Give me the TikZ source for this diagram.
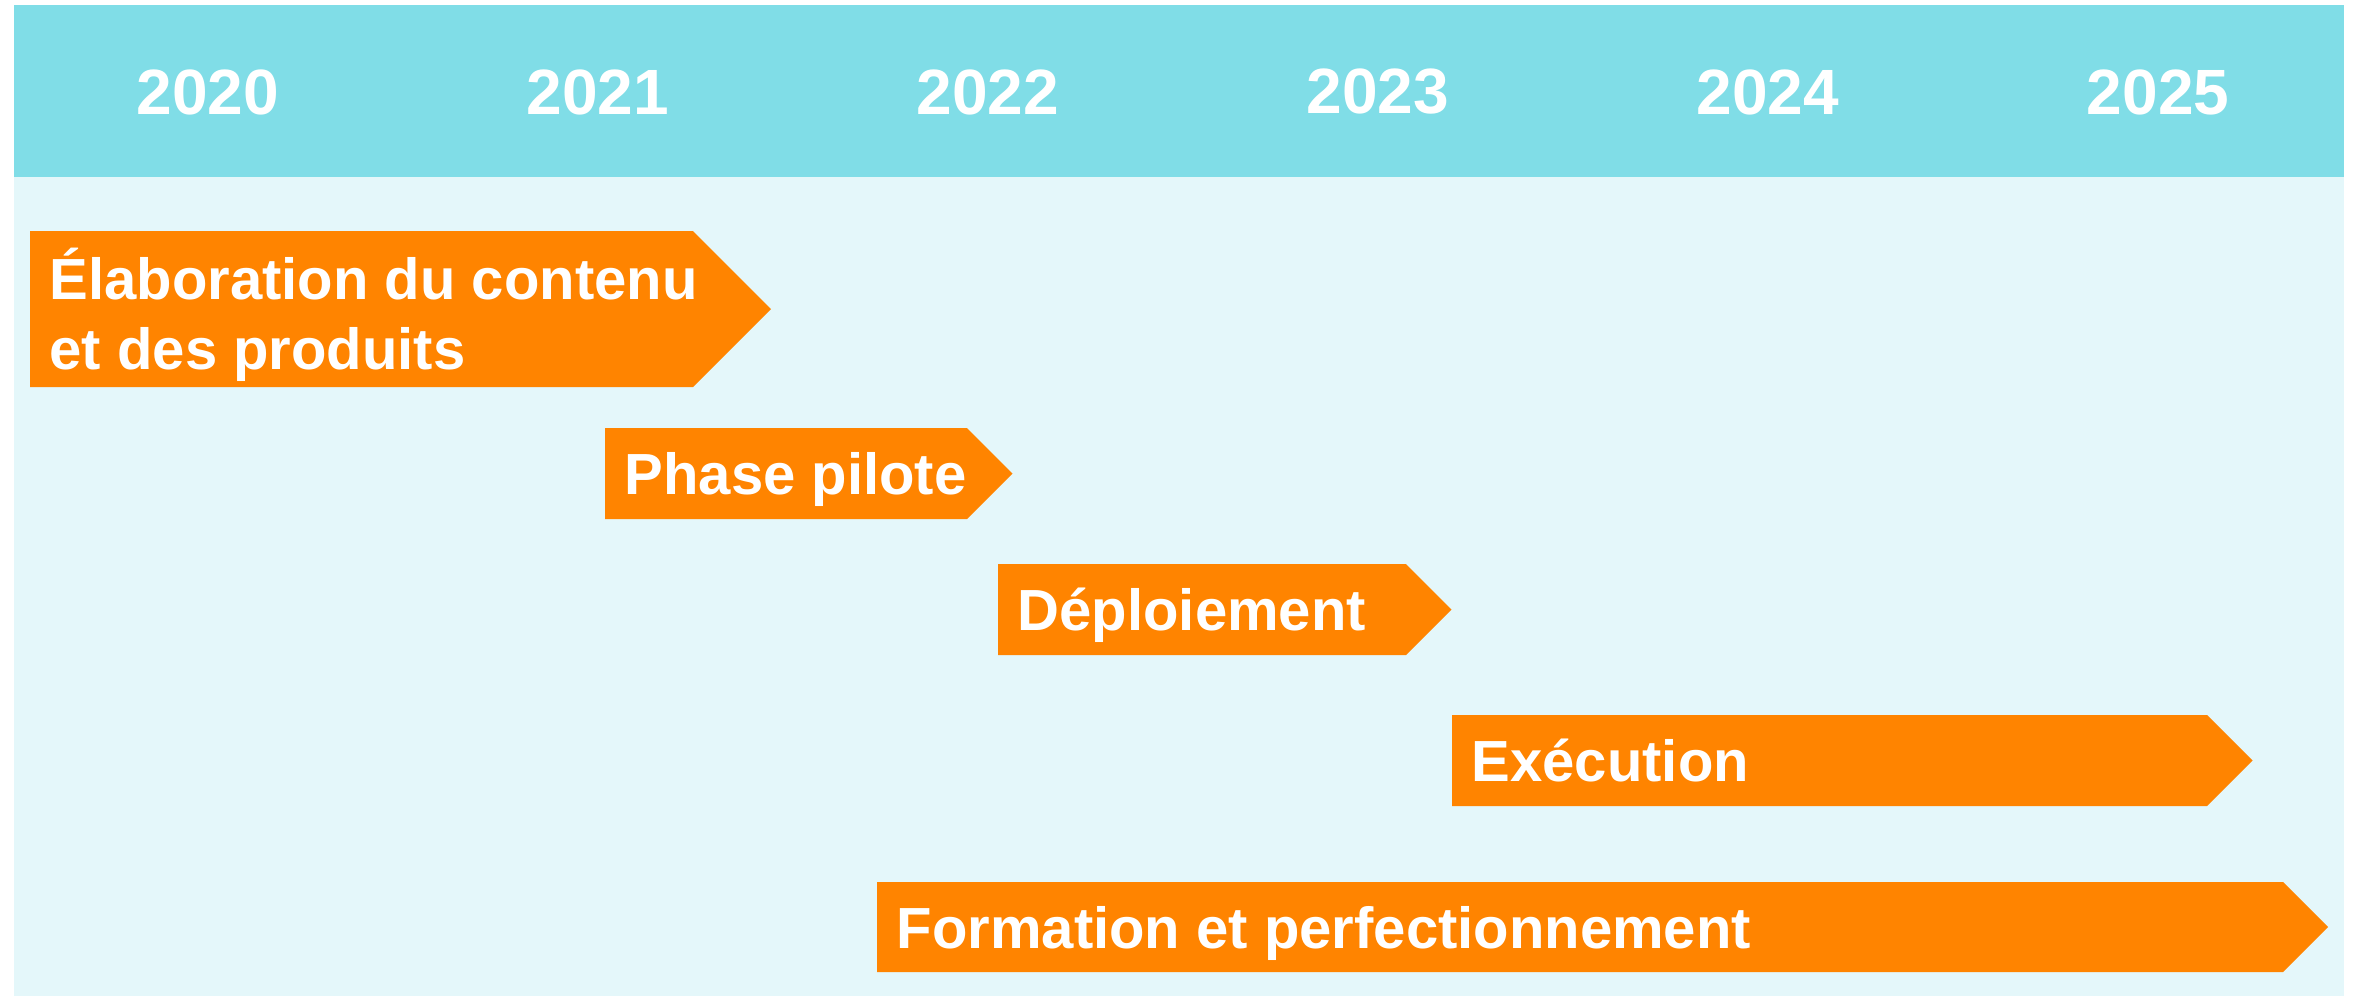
\documentclass[tikz,border=0pt]{standalone}
\usepackage{fontspec}
\setmainfont{Liberation Sans}
\usepackage{tikz}
\usetikzlibrary{positioning,calc}
\definecolor{headcyan}{RGB}{128,221,231}
\definecolor{bodycyan}{RGB}{228,247,250}
\definecolor{phaseorange}{RGB}{255,132,0}
\tikzset{
  yearlabel/.style={text=white,font=\fontsize{18.2}{21}\selectfont\bfseries,inner sep=0pt},
  phaselabel/.style={anchor=west,text=white,align=left,inner xsep=5.4pt,inner ysep=0pt,
    text depth=0pt,font=\fontsize{16.5}{19.9}\selectfont\bfseries},
  phasefill/.style={fill=phaseorange}
}
\begin{document}
\begin{tikzpicture}[x=0.01cm,y=-0.01cm]
                \useasboundingbox (0,0) rectangle (2357,996);
                % draw background and header band
                \fill[bodycyan] (14,177) rectangle (2344,996);
                \fill[headcyan] (14,5) rectangle (2344,177);
                % draw years
                \foreach \yr [count=\i from 0] in {2020,...,2025}
                \node[yearlabel] (y\yr) at ({208+390*\i},92) {\yr};
                % draw phase arrows
                \foreach \xa/\xb/\ya/\yb/\nm/\txt in {
                  30/693/231/387/elab/{Élaboration du contenu\\et des produits},
                  605/967/428/519/pilote/{Phase pilote},
                  998/1406/564/655/deploi/{Déploiement},
                  1452/2207/715/806/exec/{Exécution},
                  877/2283/882/972/form/{Formation et perfectionnement}}
                {
                  \fill[phasefill] (\xa,\ya) -- (\xb,\ya) -- ({\xb+(\yb-\ya)/2},{(\ya+\yb)/2})
                    -- (\xb,\yb) -- (\xa,\yb) -- cycle;
                  \node[phaselabel] (\nm) at (\xa,{(\ya+\yb)/2}) {\txt};
                }
\end{tikzpicture}
\end{document}
